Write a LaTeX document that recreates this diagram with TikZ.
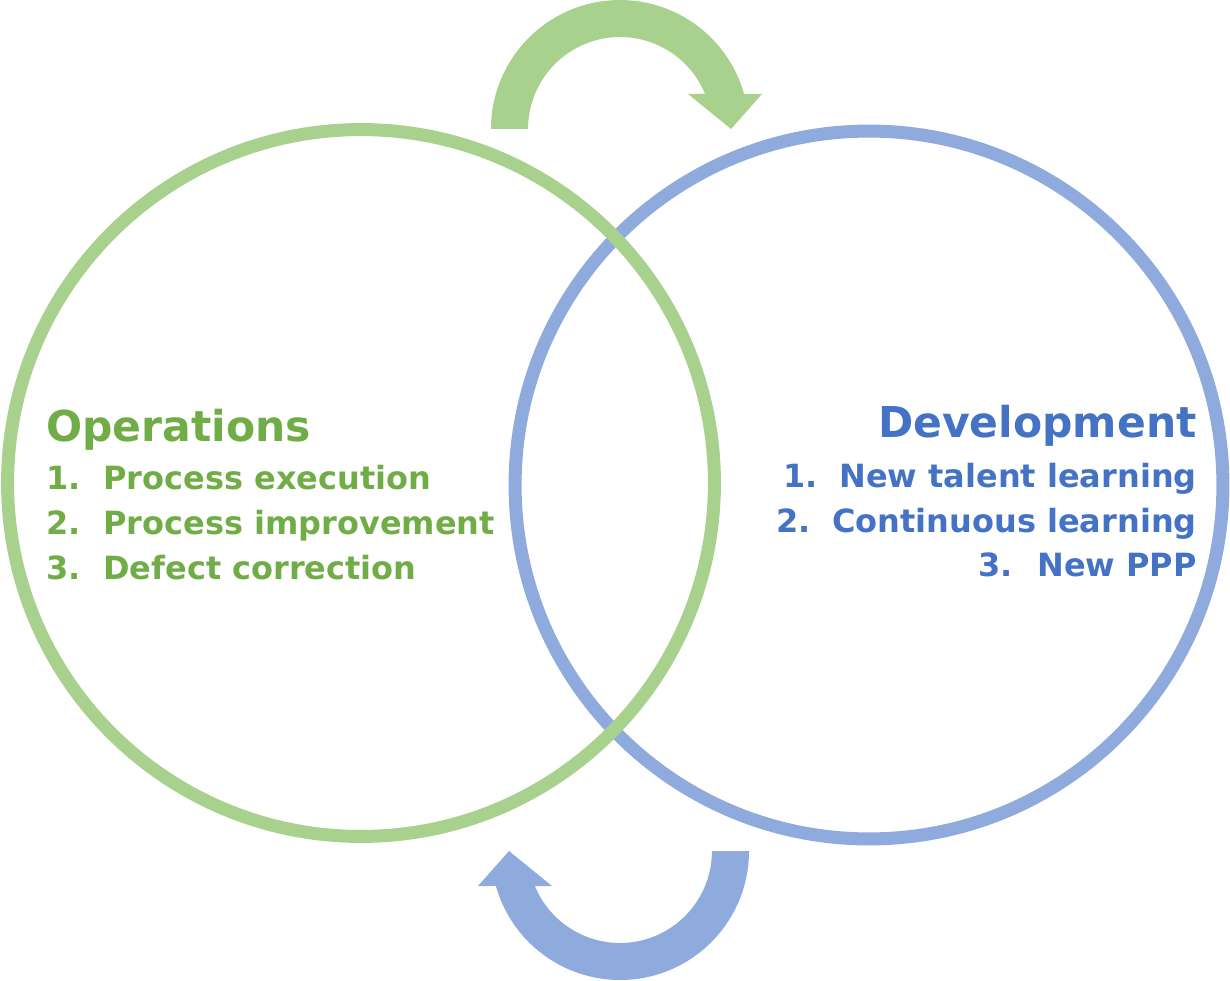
\documentclass[tikz,border=0pt]{standalone}
\usepackage{fontspec}
\setmainfont{DejaVu Sans}
\definecolor{opsline}{HTML}{A9D18E}
\definecolor{opstext}{HTML}{70AD47}
\definecolor{devline}{HTML}{8FAADC}
\definecolor{devtext}{HTML}{4472C4}
\begin{document}
\begin{tikzpicture}[x=0.02cm,y=-0.02cm]
		\tikzstyle{ring}=[line width=7.4pt];
		\tikzstyle{title}=[inner sep=0pt,font=\bfseries\fontsize{24.2}{29}\selectfont];
		\tikzstyle{item}=[inner sep=0pt,font=\bfseries\fontsize{18.2}{22}\selectfont];

		\useasboundingbox (0,0) rectangle (1230,980);

		% the two rings
		\draw [ring,draw=devline] (869,485) circle [radius=7.08cm];
		\draw [ring,draw=opsline] (361,483) circle [radius=7.07cm];

		% arrows
		\fill [opsline] (491,129) arc [start angle=180,end angle=15.74,radius=2.58cm]
			-- (762,94) -- (731,129) -- (688,94) -- (705.1,94)
			arc [start angle=22.36,end angle=180,radius=1.84cm] -- cycle;
		\fill [devline] (749,851) arc [start angle=0,end angle=-164.26,radius=2.58cm]
			-- (478,886) -- (509,851) -- (552,886) -- (534.9,886)
			arc [start angle=-157.64,end angle=0,radius=1.84cm] -- cycle;

		% Operations
		\node (ops) [title,text=opstext,anchor=base west] at (46,441) {Operations};
		\node (ops1) [item,text=opstext,anchor=base west] at (46,489) {\makebox[1.14cm][l]{1.}Process execution};
		\node (ops2) [item,text=opstext,anchor=base west] at (46,534) {\makebox[1.14cm][l]{2.}Process improvement};
		\node (ops3) [item,text=opstext,anchor=base west] at (46,579) {\makebox[1.14cm][l]{3.}Defect correction};

		% Development
		\node (dev) [title,text=devtext,anchor=base east] at (1197,437) {Development};
		\node (dev1) [item,text=devtext,anchor=base east] at (1197,487) {\makebox[1.12cm][l]{1.}New talent learning};
		\node (dev2) [item,text=devtext,anchor=base east] at (1197,532) {\makebox[1.12cm][l]{2.}Continuous learning};
		\node (dev3) [item,text=devtext,anchor=base east] at (1197,576) {\makebox[1.18cm][l]{3.}New PPP};
	\end{tikzpicture}
\end{document}
